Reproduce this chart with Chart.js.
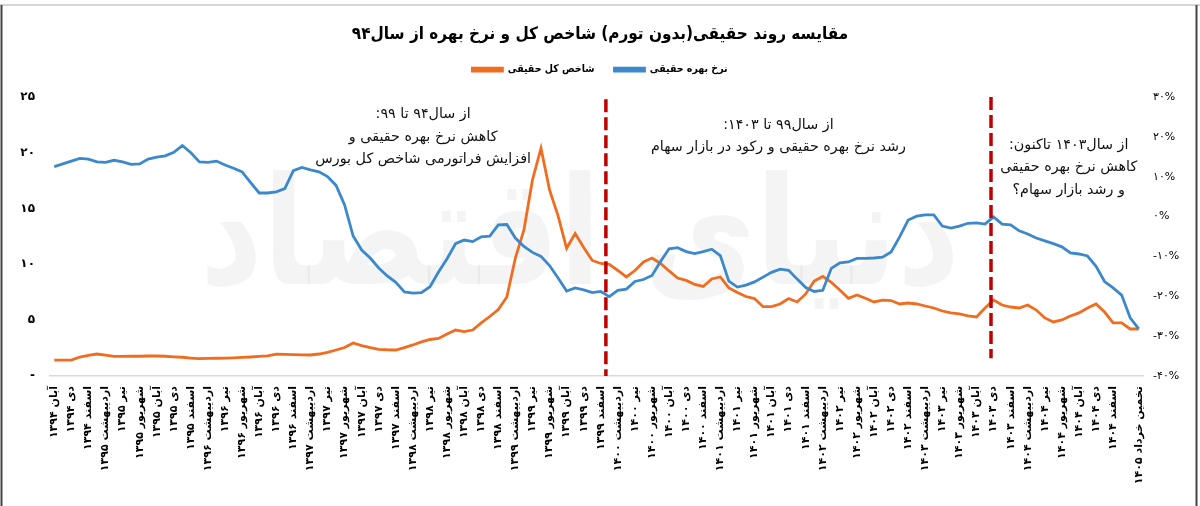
<!DOCTYPE html>
<html lang="fa">
<head>
  <meta charset="UTF-8">
  <title>مقایسه روند حقیقی شاخص کل و نرخ بهره</title>
  <script src="https://cdn.jsdelivr.net/npm/chart.js"></script>
  <style>
    body {
      margin: 0;
      background: #fff;
    }
    #wrap {
      width: 1200px;
      height: 506px;
    }
  </style>
</head>
<body>
  <div id="wrap"><canvas id="lineChart" width="1200" height="506"></canvas></div>

  <script>
    // ماه‌ها از آبان ۱۳۹۴ تا (تخمین) خرداد ۱۴۰۵
    const monthNames = ['فروردین', 'اردیبهشت', 'خرداد', 'تیر', 'مرداد', 'شهریور', 'مهر', 'آبان', 'آذر', 'دی', 'بهمن', 'اسفند'];
    const startYear = 1394;
    const startMonth = 7;
    const monthCount = 128;

    // نرخ بهره حقیقی (درصد، محور راست)
    const realRate = [
      12.5, 13.2, 13.9, 14.6, 14.4, 13.7, 13.6, 14.1, 13.7, 13.1,
      13.2, 14.4, 14.9, 15.2, 16.1, 17.8, 16.0, 13.7, 13.6, 13.9,
      12.9, 12.1, 11.2, 8.5, 5.9, 5.9, 6.2, 7.0, 11.5, 12.3,
      11.7, 11.2, 10.0, 7.8, 2.9, -4.9, -8.4, -10.4, -12.9, -14.9,
      -16.5, -18.9, -19.2, -19.1, -17.6, -13.9, -10.6, -6.8, -5.9, -6.3,
      -5.1, -4.9, -2.1, -2.0, -5.4, -7.5, -9.0, -10.0, -12.3, -15.4,
      -18.7, -17.9, -18.4, -19.1, -18.8, -20.1, -18.5, -18.2, -16.3, -15.8,
      -14.8, -11.3, -8.1, -7.8, -8.8, -9.3, -8.8, -8.2, -9.8, -16.2,
      -17.7, -17.2, -16.4, -15.2, -14.0, -13.2, -13.5, -15.7, -17.8, -18.8,
      -18.5, -13.0, -11.6, -11.4, -10.5, -10.5, -10.4, -10.2, -8.9, -5.1,
      -0.9, 0.1, 0.4, 0.4, -2.4, -2.9, -2.4, -1.7, -1.6, -1.9,
      -0.1, -1.9, -2.1, -3.6, -4.4, -5.4, -6.1, -6.8, -7.6, -9.1,
      -9.4, -9.9, -12.5, -16.3, -17.9, -19.7, -25.4, -28.2
    ];

    // شاخص کل حقیقی (محور چپ)
    const realIndex = [
      1.43, 1.43, 1.43, 1.70, 1.84, 1.97, 1.88, 1.75, 1.75, 1.77,
      1.77, 1.79, 1.79, 1.77, 1.72, 1.68, 1.61, 1.55, 1.57, 1.59,
      1.61, 1.63, 1.66, 1.70, 1.75, 1.81, 1.95, 1.94, 1.92, 1.89,
      1.88, 1.97, 2.11, 2.33, 2.55, 2.96, 2.73, 2.55, 2.39, 2.35,
      2.33, 2.55, 2.78, 3.05, 3.27, 3.36, 3.76, 4.12, 3.97, 4.12,
      4.75, 5.33, 5.96, 7.08, 10.57, 13.08, 17.56, 20.40, 16.67, 14.34,
      11.44, 12.77, 11.51, 10.35, 10.08, 9.99, 9.45, 8.87, 9.45, 10.22,
      10.57, 10.08, 9.41, 8.78, 8.56, 8.20, 8.02, 8.69, 8.87, 7.89,
      7.48, 7.12, 6.94, 6.21, 6.21, 6.45, 6.94, 6.63, 7.35, 8.51,
      8.92, 8.38, 7.71, 6.96, 7.26, 6.96, 6.63, 6.79, 6.76, 6.45,
      6.54, 6.45, 6.27, 6.09, 5.82, 5.65, 5.56, 5.38, 5.29, 6.09,
      6.81, 6.36, 6.18, 6.09, 6.36, 5.91, 5.20, 4.84, 5.02, 5.38,
      5.65, 6.09, 6.45, 5.73, 4.75, 4.75, 4.21, 4.21
    ];

    // خطوط عمودی تفکیک دوره‌ها (جایگاه روی محور ماه‌ها)
    const periodBreaks = [64.6, 109.7];
    const breakTops = [24.8, 25];
    const breakBottoms = [0, 1.6];

    // متن‌های توضیحی: [جایگاه ماه، مقدار محور چپ، سطرها]
    const noteIndex = [43.2, 84.8, 118.8];
    const noteValue = [23.4, 22.5, 20.7];
    const noteLines = [
      ['از سال۹۴ تا ۹۹:', 'کاهش نرخ بهره حقیقی و', 'افزایش فراتورمی شاخص کل بورس'],
      ['از سال۹۹ تا ۱۴۰۳:', 'رشد نرخ بهره حقیقی و رکود در بازار سهام'],
      ['از سال۱۴۰۳ تاکنون:', 'کاهش نرخ بهره حقیقی', 'و رشد بازار سهام؟']
    ];

    const blue = '#3b88cc';
    const orange = '#f06c1f';
    const fontFamily = '"DejaVu Sans", sans-serif';
    const narrowFamily = '"DejaVu Sans Condensed", "DejaVu Sans", sans-serif';

    function toFa(n) {
      return String(n).replace(/\d/g, d => '۰۱۲۳۴۵۶۷۸۹'[d]);
    }

    const labels = [];
    for (let i = 0; i < monthCount; i++) {
      const m = (startMonth + i) % 12;
      const y = startYear + Math.floor((startMonth + i) / 12);
      labels.push(monthNames[m] + ' ' + toFa(y));
    }
    labels[monthCount - 1] = 'تخمین ' + labels[monthCount - 1];

    function showLabel(i) {
      return (i % 2 === 0 && i <= monthCount - 4) || i === monthCount - 1;
    }

    // واترمارک، خطوط چین و متن‌ها
    const extras = {
      id: 'extras',
      beforeDatasetsDraw(chart) {
        const { ctx } = chart;
        ctx.save();
        ctx.fillStyle = 'rgba(0,0,0,0.045)';
        ctx.font = 'bold 150px ' + fontFamily;
        ctx.textAlign = 'center';
        ctx.textBaseline = 'middle';
        ctx.direction = 'rtl';
        ctx.fillText('دنیای اقتصاد', 580, 245, 760);
        ctx.restore();
      },
      afterDatasetsDraw(chart) {
        const { ctx } = chart;
        const xs = chart.scales.x;
        const ys = chart.scales.y;
        ctx.save();
        ctx.strokeStyle = '#c00000';
        ctx.lineWidth = 3.5;
        ctx.setLineDash([13, 5]);
        periodBreaks.forEach((v, k) => {
          const px = xs.getPixelForValue(v);
          ctx.beginPath();
          ctx.moveTo(px, ys.getPixelForValue(breakTops[k]));
          ctx.lineTo(px, ys.getPixelForValue(breakBottoms[k]));
          ctx.stroke();
        });
        ctx.setLineDash([]);

        ctx.fillStyle = '#111';
        ctx.font = '14.3px ' + fontFamily;
        ctx.textAlign = 'center';
        ctx.textBaseline = 'middle';
        ctx.direction = 'rtl';
        noteLines.forEach((lines, k) => {
          const px = xs.getPixelForValue(noteIndex[k]);
          const py = ys.getPixelForValue(noteValue[k]);
          lines.forEach((t, j) => ctx.fillText(t, px, py + j * 22.5));
        });
        ctx.restore();
      },
      afterDraw(chart) {
        const { ctx, width, height } = chart;
        ctx.save();
        ctx.strokeStyle = '#d6d6d6';
        ctx.lineWidth = 2;
        ctx.beginPath();
        ctx.moveTo(0, 5);
        ctx.lineTo(width, 5);
        ctx.stroke();
        ctx.strokeStyle = '#444';
        ctx.beginPath();
        ctx.moveTo(1.5, 5);
        ctx.lineTo(1.5, height);
        ctx.moveTo(width - 3.5, 5);
        ctx.lineTo(width - 3.5, height);
        ctx.stroke();
        ctx.restore();
      }
    };

    const ctx = document.getElementById('lineChart').getContext('2d');
    new Chart(ctx, {
      type: 'line',
      data: {
        labels: labels,
        datasets: [
          {
            label: 'نرخ بهره حقیقی',
            data: realRate,
            borderColor: blue,
            backgroundColor: blue,
            yAxisID: 'y1',
            borderWidth: 2.8,
            pointRadius: 0,
            tension: 0
          },
          {
            label: 'شاخص کل حقیقی',
            data: realIndex,
            borderColor: orange,
            backgroundColor: orange,
            yAxisID: 'y',
            borderWidth: 2.8,
            pointRadius: 0,
            tension: 0
          }
        ]
      },
      options: {
        responsive: false,
        animation: false,
        layout: { padding: { top: 8, left: 0, right: 0, bottom: 0 } },
        plugins: {
          title: {
            display: true,
            text: 'مقایسه روند حقیقی(بدون تورم) شاخص کل و نرخ بهره از سال۹۴',
            color: '#000',
            font: { family: narrowFamily, size: 17, weight: 'bold' },
            padding: { top: 16, bottom: 0 }
          },
          subtitle: {
            // فاصله خالی بین راهنما و نمودار
            display: true,
            text: '',
            weight: 500,
            font: { size: 10 },
            padding: { top: 0, bottom: 0 }
          },
          legend: {
            reverse: true,
            labels: {
              color: '#000',
              boxWidth: 30,
              boxHeight: 3,
              padding: 20,
              font: { family: narrowFamily, size: 10.5, weight: 'bold' }
            }
          },
          tooltip: { enabled: false }
        },
        scales: {
          x: {
            offset: true,
            grid: { display: false, drawTicks: false },
            border: { display: true, color: '#d9d9d9', width: 1.5 },
            ticks: {
              autoSkip: false,
              minRotation: 90,
              maxRotation: 90,
              padding: 10,
              color: '#000',
              font: { family: fontFamily, size: 11, weight: 'bold' },
              callback: (v, i) => showLabel(i) ? labels[i] : null
            },
            afterFit: s => { s.height = 130; }
          },
          y: {
            position: 'left',
            min: 0,
            max: 25,
            grid: { display: false, drawTicks: false },
            border: { display: false },
            ticks: {
              stepSize: 5,
              padding: 15,
              color: '#000',
              font: { family: fontFamily, size: 12, weight: 'bold' },
              callback: v => v === 0 ? '-' : toFa(v)
            },
            afterFit: s => { s.width = 50; }
          },
          y1: {
            position: 'right',
            min: -40,
            max: 30,
            grid: { display: false, drawTicks: false },
            border: { display: false },
            ticks: {
              stepSize: 10,
              padding: 10,
              color: '#000',
              font: { family: fontFamily, size: 11 },
              callback: v => toFa(v) + '%'
            },
            afterFit: s => { s.width = 57; }
          }
        }
      },
      plugins: [extras]
    });
  </script>
</body>
</html>
